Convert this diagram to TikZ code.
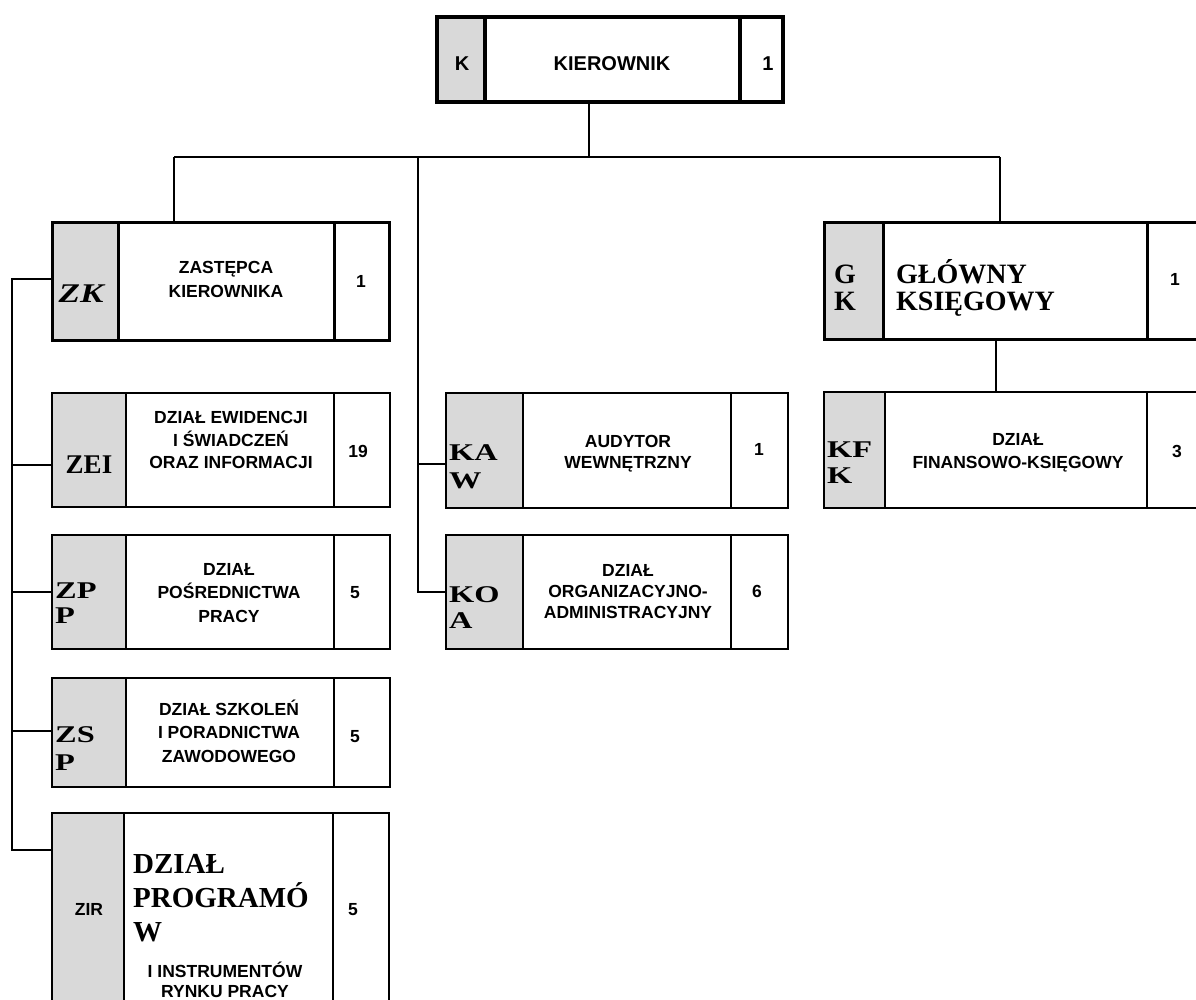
\documentclass[tikz,border=0pt]{standalone}
\usepackage{fontspec}
\setmainfont{Liberation Sans}
\newfontfamily\tnr{Liberation Serif}
\newfontfamily\tnrw[FakeStretch=1.35]{Liberation Serif}
\newfontfamily\tnri[FakeStretch=1.3]{Liberation Serif}
\usetikzlibrary{calc}
\definecolor{cellgray}{RGB}{217,217,217}
\tikzset{
  wire/.style={line width=1.5pt},
  frame/.style={draw, inner sep=0pt, outer sep=0pt},
  stxt/.style={font=\bfseries\fontsize{17.5}{20}\selectfont, anchor=base, inner sep=0pt},
  sbig/.style={font=\bfseries\fontsize{20}{22}\selectfont, anchor=base, inner sep=0pt},
  codec/.style={font=\tnr\bfseries\fontsize{27}{30}\selectfont, anchor=base, inner sep=0pt},
  codeit/.style={font=\tnri\bfseries\itshape\fontsize{27}{30}\selectfont, anchor=base, inner sep=0pt},
  codew/.style={font=\tnrw\bfseries\fontsize{24}{28}\selectfont, anchor=base west, inner sep=0pt},
  gktxt/.style={font=\tnr\bfseries\fontsize{28}{30}\selectfont, anchor=base west, inner sep=0pt},
  zirtxt/.style={font=\tnr\bfseries\fontsize{29}{32}\selectfont, anchor=base west, inner sep=0pt},
}
% #1 name, #2 x1, #3 y1, #4 x gray end, #5 x number start, #6 x2, #7 y2, #8 line width
\newcommand\orgbox[8]{%
  \fill[cellgray] (#2,#3) rectangle (#4,#7);
  \draw[line width=#8] (#4,#3) -- (#4,#7) (#5,#3) -- (#5,#7);
  \node[frame, line width=#8, minimum width={(#6-#2)*1pt}, minimum height={(#7-#3)*1pt}]
    (#1) at ({(#2+#6)/2},{(#3+#7)/2}) {};
}
\newcommand\tline[5]{\node[#4] (#1) at (#2,#3) {#5};}
\begin{document}
\begin{tikzpicture}[x=1pt,y=-1pt]
\useasboundingbox (0,0) rectangle (1196,999);
\clip (0,0) rectangle (1196,999);
\fill[white] (0,0) rectangle (1196,999);

% boxes
\orgbox{k}{437}{17}{485}{740}{783}{102}{3.5pt}
\orgbox{zk}{52}{222}{118}{334}{389}{340}{3pt}
\orgbox{gk}{824}{222}{883}{1147}{1206}{339}{3pt}
\orgbox{zei}{52}{393}{126}{334}{390}{507}{2pt}
\orgbox{zpp}{52}{535}{126}{334}{390}{649}{2pt}
\orgbox{zsp}{52}{678}{126}{334}{390}{787}{2pt}
\orgbox{zir}{52}{813}{124}{333}{389}{1012}{2pt}
\orgbox{kaw}{446}{393}{523}{731}{788}{508}{2pt}
\orgbox{koa}{446}{535}{523}{731}{788}{649}{2pt}
\orgbox{kfk}{824}{392}{885}{1147}{1206}{508}{2pt}

% connectors
\coordinate (b0) at (589,157);
\coordinate (b1) at (174,157);
\coordinate (b2) at (418,157);
\coordinate (b3) at (1000,157);
\coordinate (L) at (12,0);
\coordinate (kd) at ($(k.south west)!(589,0)!(k.south east)$);
\coordinate (zkJ) at ($(zk.north west)!(0,279)!(zk.south west)$);
\coordinate (zeiJ) at ($(zei.north west)!(0,465)!(zei.south west)$);
\coordinate (zppJ) at ($(zpp.north west)!(0,592)!(zpp.south west)$);
\coordinate (zspJ) at ($(zsp.north west)!(0,731)!(zsp.south west)$);
\coordinate (zirJ) at ($(zir.north west)!(0,850)!(zir.south west)$);
\coordinate (kawJ) at ($(kaw.north west)!(0,464)!(kaw.south west)$);
\coordinate (koaJ) at ($(koa.north west)!(0,592)!(koa.south west)$);
\coordinate (gkd) at ($(gk.south west)!(996,0)!(gk.south east)$);

\draw[wire] (kd) -- (b0);
\draw[wire] (b1) -- (b3);
\draw[wire] (b1) -- (b1 |- zk.north);
\draw[wire] (b3) -- (b3 |- gk.north);
\draw[wire] (b2) -- (b2 |- koaJ) -- (koaJ);
\draw[wire] (b2 |- kawJ) -- (kawJ);
\draw[wire] (zkJ) -- (zkJ -| L) -- (L |- zirJ) -- (zirJ);
\draw[wire] (L |- zeiJ) -- (zeiJ);
\draw[wire] (L |- zppJ) -- (zppJ);
\draw[wire] (L |- zspJ) -- (zspJ);
\draw[wire] (gkd) -- (gkd |- kfk.north);

% texts: KIEROWNIK
\tline{k1}{462}{70}{sbig}{K}
\tline{k2}{612}{70}{sbig}{KIEROWNIK}
\tline{k3}{768}{70}{sbig}{1}
% ZK
\tline{zk0}{81}{302}{codeit}{ZK}
\tline{zk1}{226}{273}{stxt}{ZASTĘPCA}
\tline{zk2}{226}{297}{stxt}{KIEROWNIKA}
\tline{zk3}{361}{287}{stxt}{1}
% GK
\tline{gk0a}{834}{283}{gktxt}{G}
\tline{gk0b}{834}{310}{gktxt}{K}
\tline{gk1}{896}{283}{gktxt}{GŁÓWNY}
\tline{gk2}{896}{310}{gktxt}{KSIĘGOWY}
\tline{gk3}{1175}{285}{stxt}{1}
% ZEI
\tline{zei0}{89}{473}{codec}{ZEI}
\tline{zei1}{231}{423}{stxt}{DZIAŁ EWIDENCJI}
\tline{zei2}{231}{446}{stxt}{I ŚWIADCZEŃ}
\tline{zei3}{231}{468}{stxt}{ORAZ INFORMACJI}
\tline{zei4}{358}{457}{stxt}{19}
% KAW
\tline{kaw0a}{449}{460}{codew}{KA}
\tline{kaw0b}{449}{488}{codew}{W}
\tline{kaw1}{628}{447}{stxt}{AUDYTOR}
\tline{kaw2}{628}{468}{stxt}{WEWNĘTRZNY}
\tline{kaw3}{759}{455}{stxt}{1}
% KOA
\tline{koa0a}{449}{602}{codew}{KO}
\tline{koa0b}{449}{628}{codew}{A}
\tline{koa1}{628}{576}{stxt}{DZIAŁ}
\tline{koa2}{628}{597}{stxt}{ORGANIZACYJNO-}
\tline{koa3}{628}{618}{stxt}{ADMINISTRACYJNY}
\tline{koa4}{757}{597}{stxt}{6}
% KFK
\tline{kfk0a}{827}{457}{codew}{KF}
\tline{kfk0b}{827}{483}{codew}{K}
\tline{kfk1}{1018}{445}{stxt}{DZIAŁ}
\tline{kfk2}{1018}{468}{stxt}{FINANSOWO-KSIĘGOWY}
\tline{kfk3}{1177}{457}{stxt}{3}
% ZPP
\tline{zpp0a}{55}{598}{codew}{ZP}
\tline{zpp0b}{55}{623}{codew}{P}
\tline{zpp1}{229}{575}{stxt}{DZIAŁ}
\tline{zpp2}{229}{598}{stxt}{POŚREDNICTWA}
\tline{zpp3}{229}{622}{stxt}{PRACY}
\tline{zpp4}{355}{598}{stxt}{5}
% ZSP
\tline{zsp0a}{55}{742}{codew}{ZS}
\tline{zsp0b}{55}{770}{codew}{P}
\tline{zsp1}{229}{715}{stxt}{DZIAŁ SZKOLEŃ}
\tline{zsp2}{229}{738}{stxt}{I PORADNICTWA}
\tline{zsp3}{229}{762}{stxt}{ZAWODOWEGO}
\tline{zsp4}{355}{742}{stxt}{5}
% ZIR
\tline{zir0}{89}{915}{stxt}{ZIR}
\tline{zir1}{133}{873}{zirtxt}{DZIAŁ}
\tline{zir2}{133}{907}{zirtxt}{PROGRAMÓ}
\tline{zir3}{133}{941}{zirtxt}{W}
\tline{zir4}{225}{977}{stxt}{I INSTRUMENTÓW}
\tline{zir5}{225}{997}{stxt}{RYNKU PRACY}
\tline{zir6}{353}{915}{stxt}{5}
\end{tikzpicture}
\end{document}
